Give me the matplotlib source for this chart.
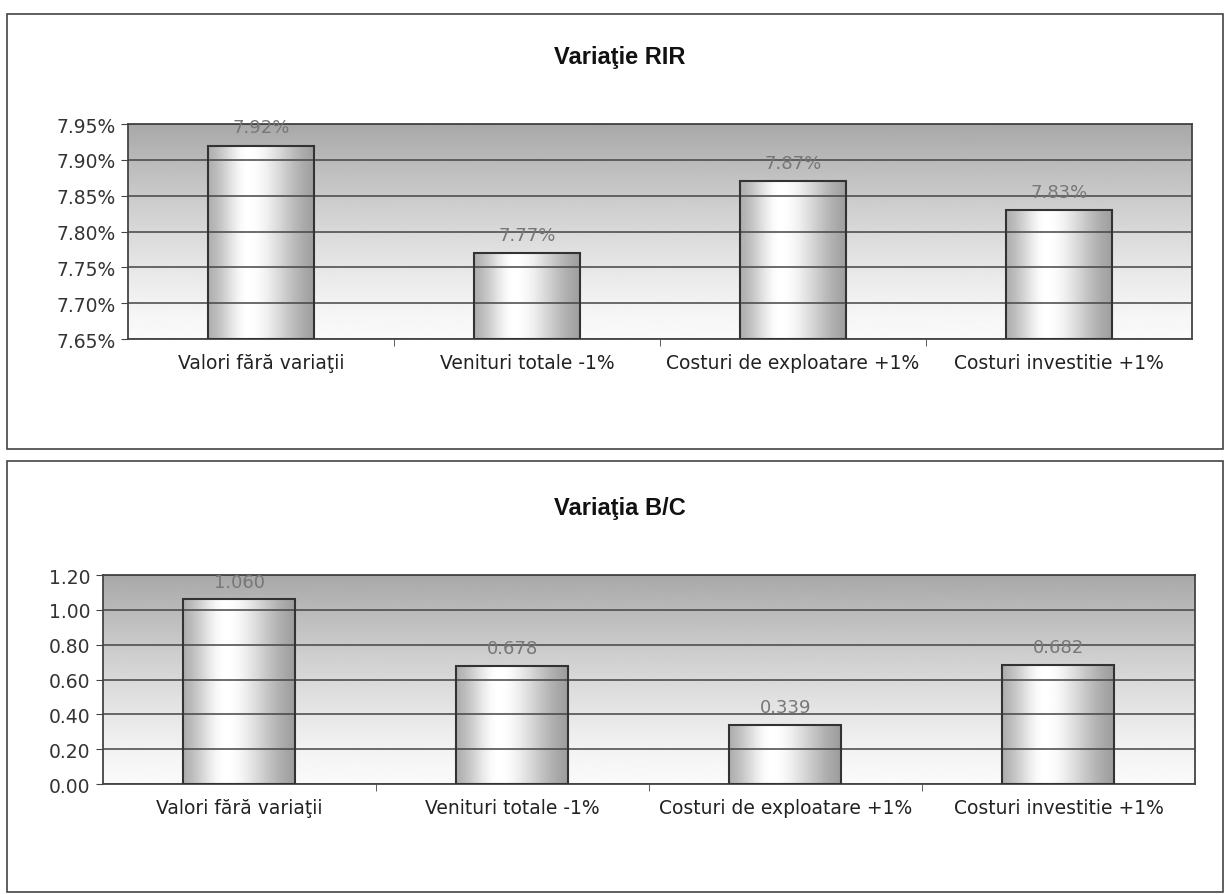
import numpy as np
import matplotlib.pyplot as plt
from matplotlib.patches import Rectangle

categories = ['Valori fără variaţii', 'Venituri totale -1%',
              'Costuri de exploatare +1%', 'Costuri investitie +1%']
rir_values = [7.92, 7.77, 7.87, 7.83]
bc_values = [1.060, 0.678, 0.339, 0.682]

plt.rcParams['font.family'] = ['DejaVu Sans']

fig = plt.figure(figsize=(12.3, 8.95), dpi=100)
fig.patch.set_facecolor('white')

# panel frames
for y0, h in [(0.497, 0.486), (0.002, 0.482)]:
    fig.patches.append(Rectangle((0.006, y0), 0.988, h, transform=fig.transFigure,
                                 fill=False, edgecolor='#444444', lw=1.2))

# horizontal shading used for the bars (cylinder look)
xs = np.linspace(0, 1, 200)
bar_shade = 0.62 + 0.38 * np.exp(-((xs - 0.38) / 0.28) ** 2)
bar_shade[xs > 0.38] = 0.55 + 0.45 * np.exp(-((xs[xs > 0.38] - 0.38) / 0.45) ** 2)
bar_img = np.tile(bar_shade, (2, 1))

# vertical shading of the plot area
ys = np.linspace(0, 1, 200)
bg_shade = 0.98 - 0.32 * ys ** 1.3
bg_img = bg_shade[::-1].reshape(-1, 1)


def draw_panel(ax, values, ymin, ymax, step, fmt, labels, width):
    ax.set_xlim(-0.5, len(values) - 0.5)
    ax.set_ylim(ymin, ymax)
    ax.imshow(bg_img, cmap='gray', vmin=0, vmax=1, aspect='auto',
              extent=(0, 1, 0, 1), transform=ax.transAxes, zorder=0)
    ax.set_yticks(np.arange(ymin, ymax + step / 2, step))
    ax.yaxis.set_major_formatter(plt.FuncFormatter(lambda v, p: fmt(v)))
    ax.grid(axis='y', color='#444444', lw=1.1, zorder=1)
    for i, v in enumerate(values):
        ax.imshow(bar_img, cmap='gray', vmin=0, vmax=1, aspect='auto',
                  extent=(i - width / 2, i + width / 2, ymin, v), zorder=2)
        ax.add_patch(Rectangle((i - width / 2, ymin), width, v - ymin, fill=False,
                               edgecolor='#333333', lw=1.5, zorder=3))
        ax.text(i, v + (ymax - ymin) * 0.085, labels[i], ha='center', va='center',
                fontsize=13, color='#777777', zorder=4)
    ax.set_xticks(range(len(values)))
    ax.set_xticklabels(categories, fontsize=13.5, color='#222222')
    ax.set_xticks(np.arange(0.5, len(values) - 0.5, 1), minor=True)
    ax.tick_params(axis='x', which='major', length=0, pad=10)
    ax.tick_params(axis='x', which='minor', length=5, color='#444444')
    ax.tick_params(axis='y', length=5, color='#444444', labelsize=13.5,
                   labelcolor='#333333', pad=4)
    for s in ax.spines.values():
        s.set_color('#444444')
        s.set_linewidth(1.3)
    ax.set_axisbelow(False)


ax1 = fig.add_axes([0.1041, 0.6201, 0.865, 0.2402])
draw_panel(ax1, rir_values, 7.65, 7.95, 0.05, lambda v: f'{v:.2f}%',
           [f'{v:.2f}%' for v in rir_values], 0.40)
fig.text(0.504, 0.936, 'Variaţie RIR', ha='center', va='center',
         fontsize=17, fontweight='bold', color='#111111', family='Liberation Sans')

ax2 = fig.add_axes([0.0837, 0.1229, 0.8878, 0.2335])
draw_panel(ax2, bc_values, 0.0, 1.2, 0.2, lambda v: f'{v:.2f}',
           [f'{v:.3f}' for v in bc_values], 0.41)
fig.text(0.504, 0.432, 'Variaţia B/C', ha='center', va='center',
         fontsize=17, fontweight='bold', color='#111111', family='Liberation Sans')

plt.savefig('out.png', dpi=100)
plt.close()
